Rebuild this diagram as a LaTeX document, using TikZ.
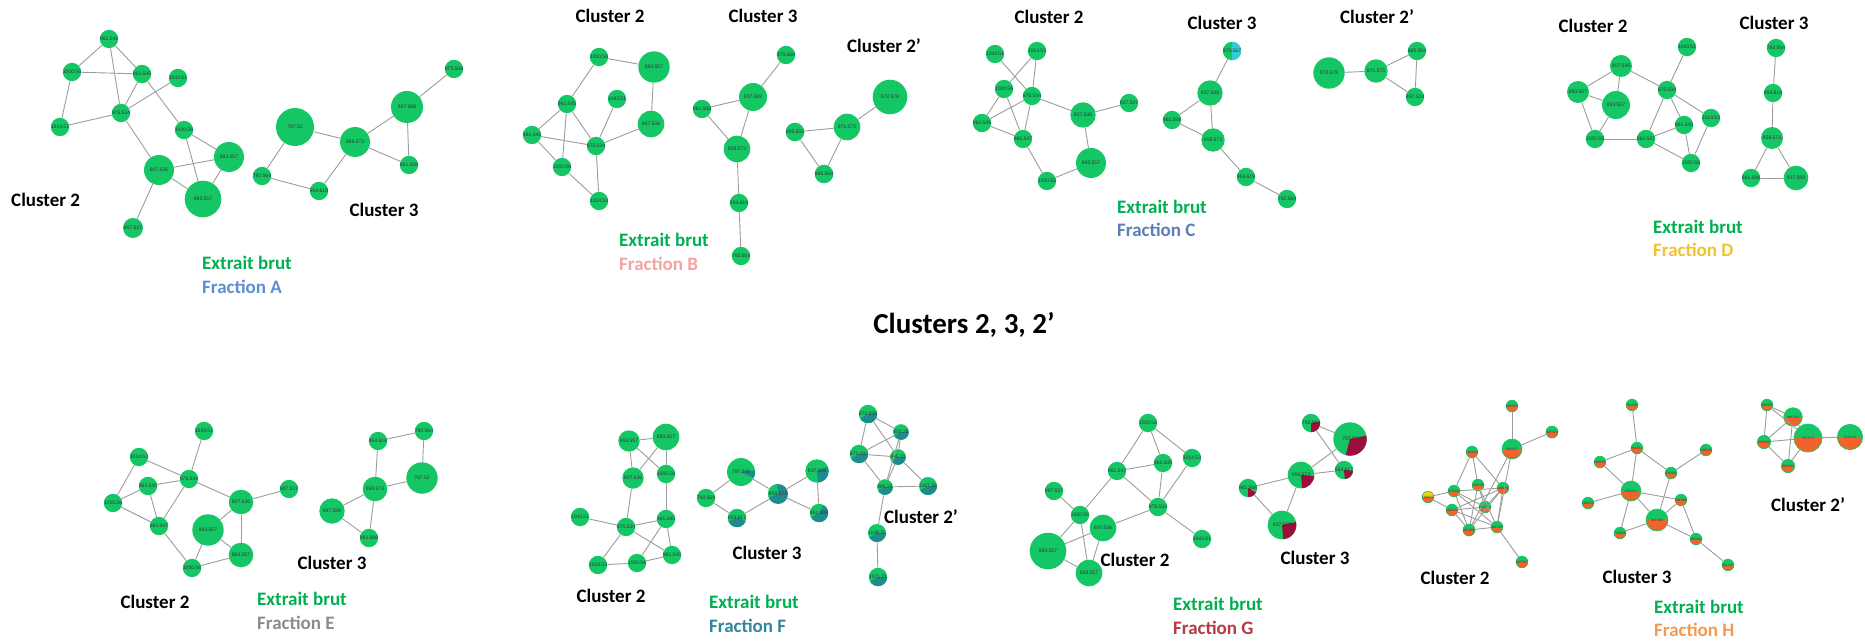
\documentclass[tikz,border=0pt]{standalone}
\usepackage{fontspec}
\setmainfont{Carlito}
\newfontfamily\numfont{Liberation Sans}
\usepackage{tikz}
\usetikzlibrary{positioning}
\definecolor{NodeGreen}{HTML}{14C764}
\definecolor{EdgeGray}{HTML}{9C9C9C}
\definecolor{TxtGreen}{HTML}{00B050}
\definecolor{TealF}{HTML}{1E8C8C}
\definecolor{MaroonG}{HTML}{9C0F3C}
\definecolor{OrangeH}{HTML}{F0642C}
\definecolor{CyanC}{HTML}{33CCD6}
\definecolor{YellowH}{HTML}{F2D21B}
\definecolor{FracA}{HTML}{5F8DD3}
\definecolor{FracB}{HTML}{F4A3A3}
\definecolor{FracC}{HTML}{5B7DB8}
\definecolor{FracD}{HTML}{F2C12E}
\definecolor{FracE}{HTML}{8C8C8C}
\definecolor{FracF}{HTML}{31859C}
\definecolor{FracG}{HTML}{B23A4A}
\definecolor{FracH}{HTML}{F39A50}

\begin{document}
\begin{tikzpicture}[x=1pt, y=-1pt, every node/.style={inner sep=0pt},
  mz/.style={circle, fill=NodeGreen, minimum size=#1*2pt, text=black!80, font=\numfont\fontsize{5}{6}\selectfont},
  part/.style n args={3}{path picture={\fill[#3] (path picture bounding box.center) -- ++(#1:40pt) arc[start angle=#1, end angle=#2, radius=40pt] -- cycle;}},
  ft/.style={mz=#1, part={-150}{0}{TealF}},
  hz/.style={mz=#1, draw=NodeGreen, line width=0.6pt, font=\numfont\fontsize{3.2}{4}\selectfont,
    path picture={\fill[OrangeH] (path picture bounding box.west) rectangle (path picture bounding box.south east);}},
  edge/.style={draw=EdgeGray, line width=0.9pt},
  clab/.style={font=\bfseries\fontsize{19}{22}\selectfont},
  ext/.style={anchor=west, text=TxtGreen, font=\bfseries\fontsize{19}{22}\selectfont},
  frac/.style={anchor=west, font=\bfseries\fontsize{19}{22}\selectfont}]
  \useasboundingbox (0,0) rectangle (1865,644);

  \node[mz=7] (a1) at (109,39) {961.545};
  \node[mz=7.3] (a2) at (72,72) {1000.56};
  \node[mz=8.3] (a3) at (142,74) {961.545};
  \node[mz=7] (a4) at (178,78) {1043.51};
  \node[mz=9] (a5) at (121,113) {975.534};
  \node[mz=7.3] (a6) at (60,127) {1014.53};
  \node[mz=8] (a7) at (184,130) {1000.56};
  \node[mz=15] (a8) at (229,157) {893.557};
  \node[mz=15] (a9) at (159,170) {907.536};
  \node[mz=18.3] (a10) at (203,199) {893.557};
  \node[mz=10] (a11) at (133,228) {907.537};
  \node[mz=7.3] (b1) at (454,69) {975.568};
  \node[mz=16] (b2) at (407,107) {937.588};
  \node[mz=19] (b3) at (295,127) {797.52};
  \node[mz=15] (b4) at (355,142) {959.573};
  \node[mz=8.3] (b5) at (409,165) {961.588};
  \node[mz=8.3] (b6) at (262,176) {792.564};
  \node[mz=8.3] (b7) at (319,191) {954.618};
  \node[clab, anchor=west] (A2lab) at (11,200) {Cluster 2};
  \node[clab] (A3lab) at (384,210) {Cluster 3};
  \node[ext] (Aext) at (202,263) {Extrait brut};
  \node[frac, text=FracA] (Afrac) at (202,287) {Fraction A};

  \node[mz=7.3] (c1) at (599,57) {1000.56};
  \node[mz=15.7] (c2) at (654,67) {893.557};
  \node[mz=7.3] (c3) at (567,104) {961.545};
  \node[mz=7.3] (c4) at (617,99) {1043.51};
  \node[mz=13.3] (c5) at (651,124) {907.536};
  \node[mz=7.3] (c6) at (532,135) {961.545};
  \node[mz=8.3] (c7) at (596,146) {975.534};
  \node[mz=7.3] (c8) at (562,167) {1000.56};
  \node[mz=7.3] (c9) at (599,201) {1014.53};
  \node[mz=6.7] (d1) at (786,55) {975.568};
  \node[mz=14] (d2) at (753,97) {937.588};
  \node[mz=7.7] (d3) at (702,109) {961.588};
  \node[mz=13.3] (d4) at (737,149) {959.573};
  \node[mz=7.3] (d5) at (739,203) {954.619};
  \node[mz=7.3] (d6) at (741,256) {792.564};
  \node[mz=17.3] (e1) at (890,97) {972.578};
  \node[mz=13.3] (e2) at (847,127) {871.575};
  \node[mz=9.3] (e3) at (795,132) {885.555};
  \node[mz=9.3] (e4) at (824,174) {885.554};
  \node[clab] (B2lab) at (610,16) {Cluster 2};
  \node[clab] (B3lab) at (763,16) {Cluster 3};
  \node[clab] (B2plab) at (884,46) {Cluster 2’};
  \node[ext] (Bext) at (619,240) {Extrait brut};
  \node[frac, text=FracB] (Bfrac) at (619,264) {Fraction B};

  \node[mz=6.7] (f1) at (995,54) {1043.51};
  \node[mz=6.7] (f2) at (1037,51) {1014.53};
  \node[mz=7.3] (f3) at (1004,89) {1000.56};
  \node[mz=8] (f4) at (1032,96) {975.534};
  \node[mz=8] (f5) at (1129,103) {907.537};
  \node[mz=12.7] (f6) at (1083,115) {907.536};
  \node[mz=7.3] (f7) at (982,123) {961.545};
  \node[mz=8] (f8) at (1023,139) {961.547};
  \node[mz=15] (f9) at (1091,163) {893.557};
  \node[mz=6.7] (f10) at (1047,181) {1000.56};
  \node[mz=6, part={-90}{90}{CyanC}] (g1) at (1232,51) {975.567};
  \node[mz=12.7] (g2) at (1210,93) {937.588};
  \node[mz=7.3] (g3) at (1172,120) {961.588};
  \node[mz=11.7] (g4) at (1213,140) {959.573};
  \node[mz=6.7] (g5) at (1246,177) {954.619};
  \node[mz=6.7] (g6) at (1287,199) {792.564};
  \node[mz=15.7] (h1) at (1329,73) {972.578};
  \node[mz=11.7] (h2) at (1376,71) {871.575};
  \node[mz=8.3] (h3) at (1417,51) {885.554};
  \node[mz=8.3] (h4) at (1415,97) {907.524};
  \node[clab] (C2lab) at (1049,17) {Cluster 2};
  \node[clab] (C3lab) at (1222,23) {Cluster 3};
  \node[clab] (C2plab) at (1377,17) {Cluster 2’};
  \node[ext] (Cext) at (1117,207) {Extrait brut};
  \node[frac, text=FracC] (Cfrac) at (1117,230) {Fraction C};

  \node[mz=6] (i1) at (1687,47) {1043.51};
  \node[mz=11] (i2) at (1621,66) {907.536};
  \node[mz=11] (i3) at (1578,92) {893.557};
  \node[mz=7.3] (i4) at (1667,90) {975.534};
  \node[mz=14] (i5) at (1616,105) {893.557};
  \node[mz=6] (i6) at (1711,118) {1014.53};
  \node[mz=6.7] (i7) at (1684,125) {961.545};
  \node[mz=6.7] (i8) at (1595,139) {1000.56};
  \node[mz=7.3] (i9) at (1646,139) {961.547};
  \node[mz=6.7] (i10) at (1691,163) {1000.56};
  \node[mz=6] (j1) at (1776,48) {792.564};
  \node[mz=6.7] (j2) at (1773,93) {954.618};
  \node[mz=11] (j3) at (1772,138) {959.573};
  \node[mz=6.7] (j4) at (1751,178) {961.588};
  \node[mz=12.3] (j5) at (1796,178) {937.588};
  \node[clab] (D2lab) at (1593,26) {Cluster 2};
  \node[clab] (D3lab) at (1774,23) {Cluster 3};
  \node[ext] (Dext) at (1653,227) {Extrait brut};
  \node[frac, text=FracD] (Dfrac) at (1653,250) {Fraction D};

  \node[font=\bfseries\fontsize{29}{34}\selectfont] (title) at (964,325) {Clusters 2, 3, 2’};

  \node[mz=6] (k1) at (204,431) {1043.51};
  \node[mz=6.7] (k2) at (139,457) {1014.53};
  \node[mz=6.7] (k3) at (148,486) {961.545};
  \node[mz=7.3] (k4) at (189,479) {975.534};
  \node[mz=8.3] (k5) at (289,489) {907.537};
  \node[mz=6.7] (k6) at (113,503) {1000.56};
  \node[mz=12.3] (k7) at (241,502) {907.536};
  \node[mz=7.3] (k8) at (159,526) {961.547};
  \node[mz=15.7] (k9) at (208,530) {893.557};
  \node[mz=12.3] (k10) at (241,555) {893.557};
  \node[mz=6.7] (k11) at (192,568) {1000.56};
  \node[mz=6.7] (l1) at (424,431) {792.564};
  \node[mz=6.7] (l2) at (378,441) {954.618};
  \node[mz=15.7] (l3) at (422,478) {797.52};
  \node[mz=12.3] (l4) at (375,489) {959.573};
  \node[mz=12.7] (l5) at (332,511) {937.588};
  \node[mz=6.7] (l6) at (369,538) {961.588};
  \node[clab] (E2lab) at (155,602) {Cluster 2};
  \node[clab] (E3lab) at (332,563) {Cluster 3};
  \node[ext] (Eext) at (257,599) {Extrait brut};
  \node[frac, text=FracE] (Efrac) at (257,623) {Fraction E};

  \node[mz=10.7] (m1) at (629,441) {893.557};
  \node[mz=13.3] (m2) at (666,437) {893.557};
  \node[mz=10.7] (m3) at (633,478) {907.536};
  \node[mz=6] (m4) at (666,474) {1000.56};
  \node[mz=5.7] (m5) at (580,517) {1043.51};
  \node[mz=6.7] (m6) at (626,527) {975.534};
  \node[mz=6] (m7) at (666,519) {961.545};
  \node[mz=5.7] (m8) at (598,565) {1014.53};
  \node[mz=6] (m9) at (637,563) {1000.56};
  \node[mz=6.7] (m10) at (672,555) {961.545};
  \node[mz=14, part={-25}{5}{TealF}] (n1) at (741,472) {797.549};
  \node[mz=11.7, part={-85}{20}{TealF}] (n2) at (817,471) {937.588};
  \node[mz=6] (n3) at (706,498) {792.564};
  \node[mz=10, fill=TealF, part={95}{200}{NodeGreen}] (n4) at (778,494) {959.573};
  \node[mz=5.7, part={-160}{-20}{TealF}] (n5) at (737,518) {954.617};
  \node[mz=6, part={-150}{60}{TealF}] (n6) at (819,513) {961.588};
  \node[ft=6] (o1) at (868,414) {872.598};
  \node[ft=6] (o2) at (901,432) {853.28};
  \node[ft=6.7] (o3) at (859,454) {871.182};
  \node[ft=6.7] (o4) at (898,457) {885.22};
  \node[ft=6.7] (o5) at (885,487) {885.24};
  \node[ft=7.3] (o6) at (928,486) {1167.28};
  \node[ft=5.7] (o7) at (877,533) {1149.25};
  \node[ft=5.7] (o8) at (878,577) {1071.21};
  \node[clab] (F2lab) at (611,596) {Cluster 2};
  \node[clab] (F3lab) at (767,553) {Cluster 3};
  \node[clab] (F2plab) at (921,517) {Cluster 2’};
  \node[ext] (Fext) at (709,602) {Extrait brut};
  \node[frac, text=FracF] (Ffrac) at (709,626) {Fraction F};

  \node[mz=6.7] (p1) at (1148,423) {1000.56};
  \node[mz=7.3] (p2) at (1163,463) {961.545};
  \node[mz=6.7] (p3) at (1192,458) {1014.53};
  \node[mz=7.3] (p4) at (1117,471) {961.547};
  \node[mz=8.3] (p5) at (1054,491) {907.537};
  \node[mz=8.3] (p6) at (1158,507) {975.534};
  \node[mz=7.3] (p7) at (1080,515) {1000.56};
  \node[mz=13.3] (p8) at (1103,528) {907.536};
  \node[mz=6.7] (p9) at (1202,539) {1043.51};
  \node[mz=18.3] (p10) at (1048,551) {893.557};
  \node[mz=13.3] (p11) at (1089,573) {893.557};
  \node[mz=6, part={-90}{10}{MaroonG}] (q1) at (1311,423) {792.564};
  \node[mz=16.7, part={-105}{12}{MaroonG}] (q2) at (1350,439) {797.52};
  \node[mz=6.7, part={-85}{-5}{MaroonG}] (q3) at (1344,470) {954.617};
  \node[mz=13.3, part={-85}{-5}{MaroonG}] (q4) at (1301,475) {959.573};
  \node[mz=7.3, part={-90}{-30}{MaroonG}] (q5) at (1248,488) {961.588};
  \node[mz=14.3, part={-85}{12}{MaroonG}] (q6) at (1282,525) {937.588};
  \node[clab] (G2lab) at (1135,560) {Cluster 2};
  \node[clab] (G3lab) at (1315,558) {Cluster 3};
  \node[ext] (Gext) at (1173,604) {Extrait brut};
  \node[frac, text=FracG] (Gfrac) at (1173,628) {Fraction G};

  \node[hz=5] (r1) at (1512,406) {885.554};
  \node[hz=6] (r2) at (1552,432) {907.524};
  \node[hz=10] (r3) at (1512,449) {893.557};
  \node[hz=5.7] (r4) at (1472,452) {1014.53};
  \node[hz=5.7] (r5) at (1478,485) {1000.56};
  \node[hz=5.7, fill=YellowH] (r6) at (1428,497) {1043.51};
  \node[hz=5.7] (r7) at (1454,491) {975.534};
  \node[hz=5.7] (r8) at (1503,488) {1000.56};
  \node[hz=5.7] (r9) at (1485,507) {961.545};
  \node[hz=5.7] (r10) at (1452,510) {1014.53};
  \node[hz=6] (r11) at (1469,530) {907.536};
  \node[hz=5.7] (r12) at (1497,527) {961.547};
  \node[hz=5.7] (r13) at (1522,562) {907.537};
  \node[hz=5.7] (s1) at (1632,405) {792.564};
  \node[hz=5.7] (s2) at (1637,448) {954.617};
  \node[hz=5] (s3) at (1706,450) {1000.56};
  \node[hz=5] (s4) at (1600,462) {1043.51};
  \node[hz=5.7] (s5) at (1671,473) {975.534};
  \node[hz=10] (s6) at (1631,491) {959.573};
  \node[hz=5.7] (s7) at (1588,503) {1014.53};
  \node[hz=5.7] (s8) at (1681,500) {961.588};
  \node[hz=11] (s9) at (1657,520) {937.588};
  \node[hz=5.7] (s10) at (1620,533) {779.539};
  \node[hz=5.7] (s11) at (1696,539) {985.604};
  \node[hz=5.7] (s12) at (1728,565) {961.547};
  \node[hz=5] (t1) at (1767,405) {885.553};
  \node[hz=9.3] (t2) at (1793,417) {885.554};
  \node[hz=6.7] (t3) at (1764,442) {885.555};
  \node[hz=14] (t4) at (1808,438) {871.575};
  \node[hz=12.7] (t5) at (1850,437) {972.578};
  \node[hz=6.7] (t6) at (1788,466) {907.524};
  \node[clab] (H2lab) at (1455,578) {Cluster 2};
  \node[clab] (H3lab) at (1637,577) {Cluster 3};
  \node[clab] (H2plab) at (1808,505) {Cluster 2’};
  \node[ext] (Hext) at (1654,607) {Extrait brut};
  \node[frac, text=FracH] (Hfrac) at (1654,630) {Fraction H};

  \foreach \u/\v in {a1/a2, a1/a3, a1/a5, a2/a3, a2/a6, a6/a5, a5/a3, a5/a4, a5/a9, a3/a7, a7/a8, a7/a10, a9/a8, a9/a10, a10/a8, a9/a11,
      b1/b2, b2/b4, b2/b5, b4/b5, b3/b4, b3/b6, b6/b7, b7/b4,
      c1/c2, c1/c3, c2/c5, c3/c6, c3/c7, c3/c8, c4/c7, c5/c7, c6/c7, c6/c8, c8/c9, c7/c9,
      d1/d2, d2/d3, d2/d4, d3/d4, d4/d5, d5/d6, e1/e2, e2/e3, e3/e4, e4/e2,
      f1/f4, f2/f3, f2/f4, f3/f7, f3/f8, f7/f4, f7/f8, f4/f8, f4/f6, f6/f5, f6/f9, f8/f10, f10/f9,
      g1/g2, g2/g3, g2/g4, g3/g4, g4/g5, g5/g6, h1/h2, h2/h3, h2/h4, h3/h4,
      i2/i3, i2/i5, i2/i4, i3/i5, i3/i8, i5/i8, i8/i9, i1/i4, i4/i9, i4/i7, i4/i6, i9/i7, i9/i10, i7/i10, i6/i10,
      j1/j2, j2/j3, j3/j4, j3/j5, j4/j5,
      k1/k4, k2/k4, k2/k6, k3/k4, k3/k6, k3/k8, k4/k8, k4/k7, k6/k8, k7/k5, k7/k9, k7/k10, k9/k10, k9/k11, k8/k11, k10/k11,
      l1/l2, l1/l3, l2/l4, l3/l4, l4/l5, l4/l6, l5/l6,
      m1/m2, m1/m3, m1/m4, m2/m3, m2/m4, m3/m6, m4/m7, m5/m6, m6/m7, m6/m8, m6/m10, m7/m9, m7/m10, m8/m9, m9/m10,
      n1/n3, n1/n4, n3/n5, n5/n4, n4/n2, n4/n6, n2/n6,
      o1/o2, o1/o3, o1/o4, o2/o3, o2/o4, o2/o5, o3/o4, o3/o5, o4/o5, o4/o6, o5/o6, o5/o7, o7/o8,
      p1/p4, p1/p2, p1/p3, p4/p2, p4/p6, p4/p7, p2/p6, p3/p6, p6/p8, p6/p9, p5/p7, p7/p10, p7/p11, p8/p10, p8/p11, p10/p11,
      q1/q2, q1/q3, q2/q4, q4/q3, q4/q5, q4/q6, q5/q6,
      r1/r3, r2/r3, r3/r11, r3/r12, r4/r5, r4/r7, r4/r8, r5/r9, r5/r11, r5/r12, r6/r7, r6/r10, r7/r8, r7/r9, r7/r11, r7/r12,
      r8/r9, r8/r10, r8/r11, r8/r12, r9/r10, r10/r12, r10/r11, r11/r12, r12/r13,
      s1/s2, s2/s4, s2/s6, s2/s5, s3/s5, s4/s6, s5/s9, s6/s7, s6/s8, s6/s9, s6/s10, s9/s10, s9/s8, s9/s11, s8/s11, s11/s12,
      t1/t2, t1/t3, t1/t4, t2/t3, t2/t4, t3/t4, t3/t6, t4/t6, t4/t5, t2/t6}
    \draw[edge] (\u) -- (\v);
\end{tikzpicture}
\end{document}
